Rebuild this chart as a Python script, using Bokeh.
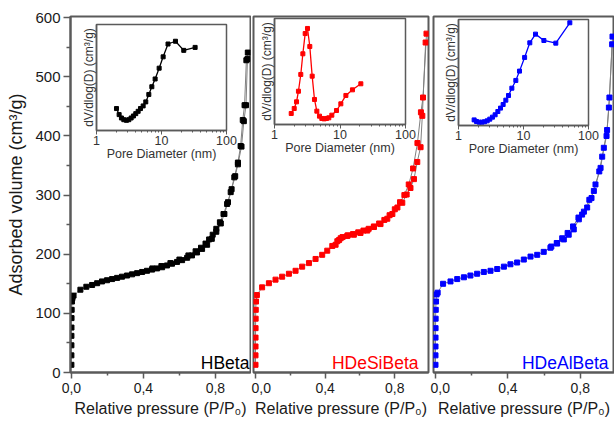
from bokeh.plotting import figure
from bokeh.models import Range1d, FixedTicker, Label, GridBox, CustomJSTickFormatter
from bokeh.embed import file_html
from bokeh.resources import INLINE

FONT = "Liberation Sans"
FRAME = "#5a5a5a"
TXT = "#1a1a1a"
LINE_GRAY = "#808080"
H = 426

# ---------------- data ----------------
# Isotherms: relative pressure P/P0 and adsorbed volume (cm3/g)
hbeta_ads_p = [0.00001, 0.00003, 0.0001, 0.0002, 0.0004, 0.0008, 0.0015, 0.003, 0.006, 0.012,
               0.05, 0.083, 0.115, 0.143, 0.17, 0.198, 0.226, 0.254, 0.281, 0.309,
               0.337, 0.365, 0.393, 0.42, 0.448, 0.476, 0.504, 0.531, 0.559, 0.587,
               0.615, 0.643, 0.67, 0.698, 0.726, 0.754, 0.78, 0.805, 0.83, 0.85,
               0.87, 0.89, 0.91, 0.925, 0.945, 0.958, 0.97, 0.978]
hbeta_ads_v = [13, 29, 46, 62, 76, 92, 106, 120, 126, 130,
               140, 145, 148, 151, 154, 156, 158, 160, 162, 164,
               166, 168, 170, 172, 174, 176, 178, 181, 184, 187,
               190, 194, 198, 203, 209, 216, 226, 238, 252, 268,
               288, 310, 332, 352, 382, 425, 452, 530]
hbeta_des_p = [0.98, 0.972, 0.962, 0.952, 0.94, 0.925, 0.905, 0.885, 0.865, 0.845, 0.825,
               0.805, 0.785, 0.765, 0.745, 0.72, 0.69, 0.65, 0.6, 0.55, 0.5, 0.45]
hbeta_des_v = [541, 528, 452, 427, 383, 355, 330, 305, 285, 268, 254,
               243, 233, 225, 218, 211, 205, 198, 191, 185, 180, 176]

desi_ads_p = [0.00001, 0.00003, 0.0001, 0.0002, 0.0004, 0.0008, 0.0015, 0.003, 0.008,
              0.038, 0.077, 0.115, 0.153, 0.192, 0.23, 0.268, 0.307, 0.345, 0.383,
              0.412, 0.441, 0.47, 0.489, 0.527, 0.565, 0.603, 0.642, 0.68, 0.718,
              0.757, 0.786, 0.815, 0.843, 0.868, 0.89, 0.91, 0.929, 0.948, 0.958, 0.977]
desi_ads_v = [13, 29, 44, 59, 75, 91, 106, 120, 131,
              144, 151, 157, 162, 167, 172, 179, 185, 192, 199,
              206, 214, 222, 227, 231, 233, 236, 240, 246, 251,
              260, 268, 279, 287, 301, 312, 327, 356, 381, 434, 558]
desi_des_p = [0.982, 0.962, 0.95, 0.93, 0.905, 0.88, 0.855, 0.83, 0.80, 0.77, 0.74,
              0.71, 0.68, 0.65, 0.62, 0.59, 0.56, 0.53, 0.50, 0.48, 0.46]
desi_des_v = [573, 465, 440, 388, 345, 318, 300, 288, 276, 266, 258,
              252, 247, 243, 240, 237, 234, 232, 229, 224, 216]

deal_ads_p = [0.00001, 0.00003, 0.0001, 0.0002, 0.0004, 0.0008, 0.0015, 0.003, 0.006, 0.012,
              0.042, 0.083, 0.12, 0.157, 0.193, 0.23, 0.267, 0.304, 0.341, 0.378,
              0.414, 0.451, 0.488, 0.525, 0.562, 0.598, 0.635, 0.672, 0.709, 0.736,
              0.764, 0.792, 0.81, 0.838, 0.862, 0.884, 0.905, 0.921, 0.945, 0.958, 0.976]
deal_ads_v = [13, 29, 44, 59, 75, 91, 106, 120, 132, 135,
              150, 154, 158, 161, 164, 167, 170, 172, 175, 179,
              183, 186, 191, 196, 199, 204, 211, 218, 225, 233,
              242, 259, 267, 279, 295, 318, 340, 365, 400, 448, 555]
deal_des_p = [0.978, 0.961, 0.948, 0.93, 0.912, 0.875, 0.85, 0.82, 0.79, 0.76, 0.73, 0.70, 0.67, 0.64]
deal_des_v = [568, 465, 410, 380, 346, 307, 292, 272, 262, 247, 236, 227, 219, 213]

# Pore size distributions (inset): pore diameter (nm) and dV/dlog(D) (arbitrary units)
hbeta_psd_d = [2.03, 2.23, 2.42, 2.63, 2.89, 3.14, 3.41, 3.70, 4.02, 4.37, 4.75,
               5.22, 5.73, 6.38, 7.10, 7.98, 9.20, 10.6, 12.6, 16.4, 22.0, 32.9]
hbeta_psd_v = [20.7, 15.0, 11.8, 10.2, 9.6, 10.2, 11.8, 13.7, 15.9, 18.1, 20.7,
               23.2, 27.0, 34.0, 41.3, 48.6, 58.8, 69.5, 81.6, 84.2, 75.6, 78.4]
desi_psd_d = [1.80, 2.00, 2.17, 2.32, 2.52, 2.71, 2.94, 3.19, 3.46, 3.76, 4.08, 4.43,
              4.86, 5.28, 5.73, 6.22, 6.75, 7.50, 8.84, 10.3, 12.3, 15.5, 20.8]
desi_psd_v = [10.4, 15.1, 21.4, 31.4, 47.2, 66.7, 85.8, 90.6, 73.6, 45.6, 23.6, 12.6,
              7.9, 5.7, 5.3, 5.7, 6.3, 8.8, 13.2, 19.5, 27.4, 32.7, 38.4]
deal_psd_d = [1.74, 1.89, 2.08, 2.29, 2.51, 2.76, 3.03, 3.33, 3.66, 4.03, 4.43, 4.86,
              5.35, 5.88, 6.62, 7.62, 8.68, 10.4, 12.5, 15.3, 20.6, 31.4, 51.6]
deal_psd_v = [5.3, 3.8, 3.1, 3.1, 3.5, 4.4, 6.0, 7.9, 10.1, 13.2, 16.4, 19.8,
              23.9, 28.3, 35.2, 42.5, 51.3, 64.2, 78.0, 86.2, 80.2, 77.7, 96.9]

sample_names = ["HBeta", "HDeSiBeta", "HDeAlBeta"]
sample_colors = ["#000000", "#ff0000", "#0000ff"]

x_ticks = [0.0, 0.4, 0.8]
x_tick_labels = ["0,0", "0,4", "0,8"]
x_minor_ticks = [0.2, 0.6]
y_ticks = [0, 100, 200, 300, 400, 500, 600]
y_minor_ticks = [50, 150, 250, 350, 450, 550]
inset_ticks = [1, 10, 100]
inset_tick_labels = ["1", "10", "100"]
inset_minor_ticks = [2, 3, 4, 5, 6, 7, 8, 9, 20, 30, 40, 50, 60, 70, 80, 90]


def label_formatter(values, texts):
    return CustomJSTickFormatter(args=dict(tvals=values, ttexts=texts), code="""
        for (let i = 0; i < tvals.length; i++) {
            if (Math.abs(tvals[i] - tick) < 1e-6 * Math.max(1, Math.abs(tick))) return ttexts[i];
        }
        return "";
    """)


def no_frame_align(fig):
    if "frame_align" in fig.properties():
        fig.frame_align = False


def main_panel(width, left, right, xr, show_y):
    p = figure(width=width, height=H, x_range=Range1d(*xr), y_range=Range1d(0, 602),
               output_backend="svg", toolbar_location=None,
               min_border_left=left, min_border_right=right,
               min_border_top=16, min_border_bottom=54)
    no_frame_align(p)
    p.grid.visible = False
    p.background_fill_color = "white"
    p.border_fill_color = "white"
    p.outline_line_color = FRAME
    p.outline_line_width = 2

    ax = p.xaxis[0]
    ax.ticker = FixedTicker(ticks=x_ticks, minor_ticks=x_minor_ticks)
    ax.formatter = label_formatter(x_ticks, x_tick_labels)
    ax.axis_line_color = FRAME
    ax.axis_line_width = 2
    ax.major_tick_line_color = FRAME
    ax.major_tick_line_width = 1.5
    ax.minor_tick_line_color = FRAME
    ax.minor_tick_line_width = 1.5
    ax.major_tick_in = 0
    ax.major_tick_out = 6
    ax.minor_tick_in = 0
    ax.minor_tick_out = 3
    ax.major_label_standoff = 4
    ax.major_label_text_font = FONT
    ax.major_label_text_font_size = "14px"
    ax.major_label_text_color = TXT
    ax.axis_label = "Relative pressure (P/P\u2080)"
    ax.axis_label_text_font = FONT
    ax.axis_label_text_font_size = "16px"
    ax.axis_label_text_font_style = "normal"
    ax.axis_label_text_color = TXT
    ax.axis_label_standoff = 4

    ay = p.yaxis[0]
    if show_y:
        ay.ticker = FixedTicker(ticks=y_ticks, minor_ticks=y_minor_ticks)
        ay.axis_line_color = FRAME
        ay.axis_line_width = 2
        ay.major_tick_line_color = FRAME
        ay.major_tick_line_width = 1.5
        ay.minor_tick_line_color = FRAME
        ay.minor_tick_line_width = 1.5
        ay.major_tick_in = 0
        ay.major_tick_out = 7
        ay.minor_tick_in = 0
        ay.minor_tick_out = 4
        ay.major_label_standoff = 3
        ay.major_label_text_font = FONT
        ay.major_label_text_font_size = "15px"
        ay.major_label_text_color = TXT
        ay.axis_label = "Adsorbed volume (cm\u00b3/g)"
        ay.axis_label_text_font = FONT
        ay.axis_label_text_font_size = "18px"
        ay.axis_label_text_font_style = "normal"
        ay.axis_label_text_color = TXT
        ay.axis_label_standoff = 6
    else:
        ay.visible = False
    return p


def draw_isotherm(p, ads_p, ads_v, des_p, des_v, color):
    p.line(ads_p, ads_v, line_color=LINE_GRAY, line_width=1)
    p.line(des_p, des_v, line_color=LINE_GRAY, line_width=1)
    p.scatter(des_p, des_v, marker="square", size=5, fill_color=color, line_color=color)
    p.scatter(ads_p, ads_v, marker="square", size=5, fill_color=color, line_color=color)


def inset_panel(d, v, color, width, left, right, top, bottom):
    # full-cell transparent figure whose frame sits where the inset is
    q = figure(width=width, height=H, x_axis_type="log",
               x_range=Range1d(1, 100), y_range=Range1d(0, 100),
               output_backend="svg", toolbar_location=None,
               min_border_left=left, min_border_right=right,
               min_border_top=top, min_border_bottom=bottom)
    no_frame_align(q)
    q.grid.visible = False
    q.border_fill_color = None
    q.background_fill_color = "white"
    q.outline_line_color = FRAME
    q.outline_line_width = 1.5

    ax = q.xaxis[0]
    ax.ticker = FixedTicker(ticks=inset_ticks, minor_ticks=inset_minor_ticks)
    ax.formatter = label_formatter(inset_ticks, inset_tick_labels)
    ax.axis_line_color = FRAME
    ax.axis_line_width = 1.5
    ax.major_tick_line_color = FRAME
    ax.minor_tick_line_color = FRAME
    ax.major_tick_in = 0
    ax.major_tick_out = 4
    ax.minor_tick_in = 0
    ax.minor_tick_out = 2
    ax.major_label_standoff = 1
    ax.major_label_text_font = FONT
    ax.major_label_text_font_size = "12.5px"
    ax.major_label_text_color = "#333333"
    ax.axis_label = "Pore Diameter (nm)"
    ax.axis_label_text_font = FONT
    ax.axis_label_text_font_size = "12.5px"
    ax.axis_label_text_font_style = "normal"
    ax.axis_label_text_color = "#333333"
    ax.axis_label_standoff = -1

    ay = q.yaxis[0]
    ay.ticker = FixedTicker(ticks=[])
    ay.axis_line_color = FRAME
    ay.axis_line_width = 1.5
    ay.major_tick_out = 0
    ay.major_tick_in = 0
    ay.minor_tick_out = 0
    ay.minor_tick_in = 0
    ay.major_label_standoff = 0
    ay.axis_label = "dV/dlog(D) (cm\u00b3/g)"
    ay.axis_label_text_font = FONT
    ay.axis_label_text_font_size = "12px"
    ay.axis_label_text_font_style = "normal"
    ay.axis_label_text_color = "#333333"
    ay.axis_label_standoff = 1

    q.line(d, v, line_color=color, line_width=1.3)
    q.scatter(d, v, marker="square", size=4, fill_color=color, line_color=color)
    return q


# ---------------- main panels ----------------
p1 = main_panel(251, 70, 1, (-0.005, 0.995), True)
p2 = main_panel(179, 2, 2, (-0.0115, 0.9935), False)
p3 = main_panel(184, 3, 0, (-0.011, 0.989), False)

draw_isotherm(p1, hbeta_ads_p, hbeta_ads_v, hbeta_des_p, hbeta_des_v, sample_colors[0])
draw_isotherm(p2, desi_ads_p, desi_ads_v, desi_des_p, desi_des_v, sample_colors[1])
draw_isotherm(p3, deal_ads_p, deal_ads_v, deal_des_p, deal_des_v, sample_colors[2])

for p, name, color, xpos in zip([p1, p2, p3], sample_names, sample_colors, [0.989, 0.936, 0.956]):
    p.add_layout(Label(x=xpos, y=16, text=name, text_align="right", text_baseline="middle",
                       text_font=FONT, text_font_size="17.5px", text_color=color))

# ---------------- insets ----------------
q1 = inset_panel(hbeta_psd_d, hbeta_psd_v, sample_colors[0], 251, 96, 25, 24, 296)
q2 = inset_panel(desi_psd_d, desi_psd_v, sample_colors[1], 179, 23, 25, 18, 302)
q3 = inset_panel(deal_psd_d, deal_psd_v, sample_colors[2], 184, 28, 26, 19, 301)

layout = GridBox(children=[(p1, 0, 0), (p2, 0, 1), (p3, 0, 2),
                           (q1, 0, 0), (q2, 0, 1), (q3, 0, 2)], spacing=0)

open("out.html", "w").write(file_html(layout, INLINE))
